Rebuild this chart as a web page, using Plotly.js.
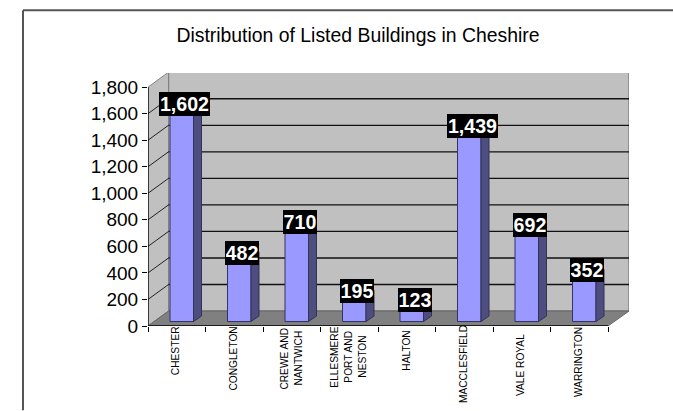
<!DOCTYPE html>
<html><head><meta charset="utf-8">
<script src="https://cdn.plot.ly/plotly-3.0.1.min.js"></script>
<style>html,body{margin:0;padding:0;background:#fff}#c{width:673px;height:411px}</style>
</head><body><div id="c"></div>
<script>
const categories = [['CHESTER'],['CONGLETON'],['CREWE AND','NANTWICH'],['ELLESMERE','PORT AND','NESTON'],['HALTON'],['MACCLESFIELD'],['VALE ROYAL'],['WARRINGTON']];
const values = [1602,482,710,195,123,1439,692,352];
const valueLabels = ['1,602','482','710','195','123','1,439','692','352'];
const yTicks = [0,200,400,600,800,1000,1200,1400,1600,1800];
const yTickLabels = ['0','200','400','600','800','1,000','1,200','1,400','1,600','1,800'];
const labelCenters = [351.5,359.5,359,357.5,351,365,365.5,363];

const W=673,H=411,L=148,R=629,T=72.5,B=326.5;
const pxPerCat=57.5, pxPerVal=239.8/1800;
const xMin=-0.5, xMax=xMin+(R-L)/pxPerCat, yMax=(B-T)/pxPerVal;
const depthX=20.5/pxPerCat, depthY=15/pxPerVal;
const barBase=4.5/pxPerVal, barShift=5/pxPerCat, barWidth=23.5/pxPerCat;
const sideX=8/pxPerCat, sideY=5.5/pxPerVal;
const labelLift=5/pxPerVal, labelShift=3/pxPerCat;
const xs=categories.map((_,i)=>i);
const WALL='#c0c0c0',FLOOR='#808080',EDGE='#808080';
const FONT='Liberation Sans, Arial, sans-serif';

const poly=p=>'M'+p.map(q=>q.join(',')).join('L')+'Z';
const shapes=[];
const add=(path,fill,color,width)=>shapes.push({type:'path',layer:'below',xref:'x',yref:'y',path,fillcolor:fill,line:{color,width}});
const seg=(x0,y0,x1,y1,color,width,layer)=>shapes.push({type:'line',layer:layer||'below',xref:'x',yref:'y',x0,y0,x1,y1,line:{color,width}});
const backL=xMin+depthX, topV=1800+depthY;
add(poly([[backL,depthY],[xMax,depthY],[xMax,topV],[backL,topV]]),WALL,EDGE,1.5);
add(poly([[xMin,0],[backL,depthY],[backL,topV],[xMin,1800]]),WALL,EDGE,1);
add(poly([[xMin,0],[7.5,0],[xMax,depthY],[backL,depthY]]),FLOOR,'#666',1);
yTicks.slice(1,-1).forEach(v=>{
  seg(backL,v+depthY,xMax,v+depthY,'#111',1.3);
  seg(xMin,v,backL,v+depthY,'#222',1);
});
seg(xMin,0,xMin,1800,'#000',1.3,'above');
seg(xMin,0,7.5,0,'#000',1.3,'above');

const sideXs=[],sideYs=[];
values.forEach((v,i)=>{
  const r=i+barShift+barWidth/2, b=barBase, t=barBase+v;
  sideXs.push(r,r+sideX,r+sideX,r,r,null);
  sideYs.push(b,b+sideY,t+sideY,t,b,null);
});

const annotations=values.map((v,i)=>({
  x:i+barShift+labelShift,y:barBase+v+labelLift,xref:'x',yref:'y',text:'<b>'+valueLabels[i]+'</b>',
  showarrow:false,bgcolor:'#000',borderpad:1,borderwidth:0,xanchor:'center',yanchor:'middle',
  width:valueLabels[i].length>3?49:32,align:'center',
  font:{family:FONT,size:19.6,color:'#fff'}
}));
categories.forEach((lines,i)=>lines.forEach((line,k)=>annotations.push({
  x:i,xshift:(k-(lines.length-1)/2)*14-0.5,y:1-(labelCenters[i]-T)/(B-T),xref:'x',yref:'paper',text:line,
  showarrow:false,textangle:-90,align:'center',xanchor:'center',yanchor:'middle',
  font:{family:FONT,size:10.2,color:'#000'}
})));

const traces=[
 {type:'bar',x:xs.map(i=>i+barShift),y:values,base:barBase,width:barWidth,
  marker:{color:'#9999ff',line:{color:'#333366',width:1}},hoverinfo:'skip',showlegend:false,cliponaxis:false},
 {type:'scatter',mode:'lines',x:sideXs,y:sideYs,fill:'toself',fillcolor:'#4d4d80',
  line:{color:'#333355',width:1},hoverinfo:'skip',showlegend:false,connectgaps:false,cliponaxis:false}
];
const layout={
 width:W,height:H,margin:{l:L,r:W-R,t:T,b:H-B,pad:0},
 paper_bgcolor:'#fff',plot_bgcolor:'rgba(0,0,0,0)',showlegend:false,
 font:{family:FONT,color:'#000'},
 title:{text:'Distribution of Listed Buildings in Cheshire',font:{size:19.4,color:'#000'},
   x:358/W,xanchor:'center',y:1-35/H,yanchor:'middle'},
 xaxis:{range:[xMin,xMax],tickmode:'array',tickvals:[-0.5,0.5,1.5,2.5,3.5,4.5,5.5,6.5,7.5],showticklabels:false,
   ticks:'outside',ticklen:5,tickcolor:'#000',tickwidth:1,showgrid:false,zeroline:false,showline:false,fixedrange:true},
 yaxis:{range:[0,yMax],tickmode:'array',tickvals:yTicks,ticktext:yTickLabels,ticks:'outside',ticklen:5,
   tickcolor:'#000',tickwidth:1,showgrid:false,zeroline:false,showline:false,fixedrange:true,
   tickfont:{size:19,color:'#000'}},
 shapes:shapes.concat([
  {type:'line',xref:'paper',yref:'paper',layer:'above',x0:(23-L)/(R-L),x1:(W-L)/(R-L),y0:1+(T-9.5)/(B-T),y1:1+(T-9.5)/(B-T),line:{color:'#555',width:2}},
  {type:'line',xref:'paper',yref:'paper',layer:'above',x0:(23-L)/(R-L),x1:(23-L)/(R-L),y0:1+(T-9.5)/(B-T),y1:1-(H-T)/(B-T),line:{color:'#555',width:2}}
 ]),
 annotations
};
Plotly.newPlot('c',traces,layout,{displayModeBar:false,staticPlot:true});
</script></body></html>
